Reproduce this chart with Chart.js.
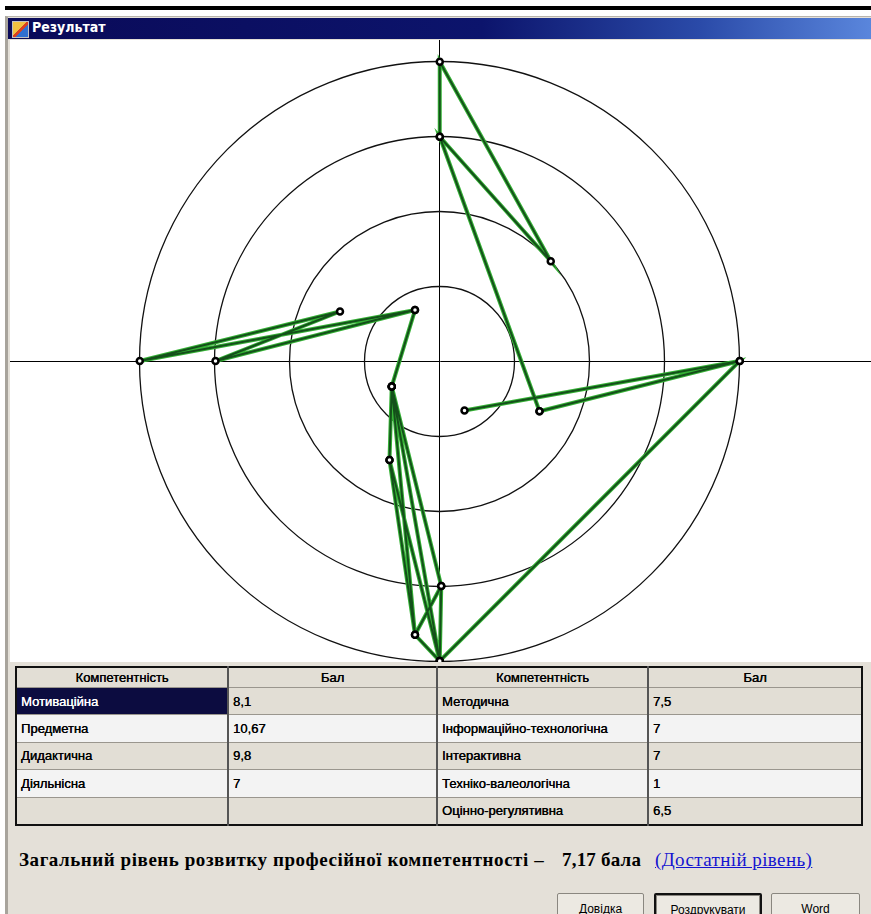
<!DOCTYPE html>
<html>
<head>
<meta charset="utf-8">
<script src="https://cdn.jsdelivr.net/npm/chart.js@4.4.1/dist/chart.umd.min.js"></script>
<style>
  body { margin: 0; width: 871px; height: 914px; overflow: hidden; background: #fff; position: relative; font-family: "Liberation Sans", Arial, sans-serif; }
  #rule { position: absolute; left: 5px; top: 6px; width: 866px; height: 4px; background: #000; }
  #win { position: absolute; left: 5px; top: 16px; right: 0; bottom: 0; background: #e4e0d8; border-left: 3px solid #a8a49c; border-top: 1px solid #b8b4ac; }
  #title { position: absolute; left: 8px; top: 18px; width: 863px; height: 21px;
    background: linear-gradient(to right, #0a0a58 0%, #0c146c 55%, #2a4aa8 80%, #5a86dc 100%); }
  #title .ico { position: absolute; left: 4px; top: 3px; width: 15px; height: 15px;
    background: linear-gradient(135deg, #f0c040 0 45%, #d84020 45% 60%, #3070d0 60%); border: 1px solid #c0c0c0; }
  #title .txt { position: absolute; left: 24px; top: 1px; color: #fff; font: bold 14px "DejaVu Sans Condensed", "DejaVu Sans", sans-serif; }
  #plot { position: absolute; left: 10px; top: 40px; width: 861px; height: 622px; background: #fff; }
  #grid { position: absolute; left: 15px; top: 666px; border: 2px solid #111; border-collapse: collapse; background: #e4e0d8; }
  #grid td, #grid th { border: 1px solid #9a968e; padding: 0 4px; font: 13px "Liberation Sans", Arial, sans-serif; color: #000; text-align: left; white-space: nowrap; text-shadow: 0.35px 0 0 #000; }
  #grid th { height: 19px; font-weight: normal; text-align: center; background: #e2ded5; }
  #grid td { height: 26.4px; }
  #grid tr.g td { background: #e2ded5; }
  #grid tr.l td { background: #f3f3f3; }
  #grid td.sel { background: #0c0c40 !important; color: #fff; text-shadow: 0.35px 0 0 #fff; }
  #grid td.sep, #grid th.sep { border-left: 2px solid #555; }
  #sum { position: absolute; left: 19px; top: 849px; font: bold 19px "Liberation Serif", "Times New Roman", serif; white-space: nowrap; letter-spacing: 0.55px; }
  #sum .val { position: absolute; left: 543px; top: 0; letter-spacing: 0.2px; }
  #sum .lvl { position: absolute; left: 636px; top: 0; color: #1414d0; text-decoration: underline; font-weight: normal; letter-spacing: 0.4px; }
  .btn { position: absolute; top: 893px; height: 26px; background: #ece9e2; border: 1px solid #8a8780; border-radius: 2px; font: 12px "Liberation Sans", Arial, sans-serif; text-align: center; line-height: 30px; box-sizing: border-box; }
  .btn.def { border: 2px solid #111; box-shadow: inset 0 0 0 1px #8a8780; }
</style>
</head>
<body>
<div id="rule"></div>
<div id="win"></div>
<div id="title"><div class="ico"></div><div class="txt">Результат</div></div>
<div id="plot"><canvas id="chart"></canvas></div>
<table id="grid"></table>
<div id="sum">Загальний рівень розвитку професійної компетентності –<span class="val">7,17 бала</span><span class="lvl">(Достатній рівень)</span></div>
<div class="btn" style="left:557px;width:87px;">Довідка</div>
<div class="btn def" style="left:654px;width:108px;">Роздрукувати</div>
<div class="btn" style="left:771px;width:89px;">Word</div>

<script>
// -------------------------------
// Data (ring units, centre = 0,0)
// -------------------------------
const ringValues = [1, 2, 3, 4];

// vertices A..O
const vertexX = [0.01, 0.01, 1.49, -1.32, -0.32, -3.99, -2.98, 4.01, 0.34, 1.34, -0.63, -0.66, 0.03, -0.32, 0.01];
const vertexY = [3.99, 2.99, 1.33, 0.66, 0.68, 0.00, 0.00, 0.00, -0.66, -0.67, -0.34, -1.32, -3.00, -3.65, -4.00];

// order in which the green line runs through the vertices
const pathOrder = [8, 7, 9, 1, 0, 2, 1, 9, 7, 14, 10, 4, 5, 3, 6, 4, 10, 12, 14, 13, 12, 10, 13, 11, 14, 11, 10];

// table
const leftNames = ["Мотиваційна", "Предметна", "Дидактична", "Діяльнісна", ""];
const leftScores = ["8,1", "10,67", "9,8", "7", ""];
const rightNames = ["Методична", "Інформаційно-технологічна", "Інтерактивна", "Техніко-валеологічна", "Оцінно-регулятивна"];
const rightScores = ["7,5", "7", "7", "1", "6,5"];

// -------------------------------
// Table
// -------------------------------
function buildTable() {
  const t = document.getElementById("grid");
  const w = [202, 199, 201, 204];
  let html = `<tr><th style="width:${w[0]}px">Компетентність</th><th class="sep" style="width:${w[1]}px">Бал</th>` +
    `<th class="sep" style="width:${w[2]}px">Компетентність</th><th class="sep" style="width:${w[3]}px">Бал</th></tr>`;
  leftNames.forEach((n, i) => {
    html += `<tr class="${i % 2 === 0 ? "g" : "l"}"><td class="${i === 0 ? "sel" : ""}">${n}</td>` +
      `<td class="sep">${leftScores[i]}</td><td class="sep">${rightNames[i]}</td><td class="sep">${rightScores[i]}</td></tr>`;
  });
  t.innerHTML = html;
}

// -------------------------------
// Rings + cross axes
// -------------------------------
const ringsPlugin = {
  id: "rings",
  beforeDatasetsDraw(chart) {
    const { ctx, chartArea: a, scales } = chart;
    const cx = Math.round(scales.x.getPixelForValue(0)) + 0.5;
    const cy = Math.round(scales.y.getPixelForValue(0)) + 0.5;
    ctx.save();
    ctx.strokeStyle = "#000";
    ctx.lineWidth = 1;
    ctx.beginPath();
    ctx.moveTo(a.left, cy);
    ctx.lineTo(a.right, cy);
    ctx.moveTo(cx, a.top);
    ctx.lineTo(cx, a.bottom);
    ctx.stroke();
    ctx.strokeStyle = "#111";
    ctx.lineWidth = 1.3;
    ringValues.forEach((v) => {
      const r = scales.x.getPixelForValue(v) - scales.x.getPixelForValue(0);
      ctx.beginPath();
      ctx.arc(cx, cy, r, 0, Math.PI * 2);
      ctx.stroke();
    });
    ctx.restore();
  },
};

function renderChart() {
  const pts = pathOrder.map((i) => ({ x: vertexX[i], y: vertexY[i] }));
  const W = 861, H = 622, cxPx = 429, cyPx = 321, unit = 75;
  new Chart(document.getElementById("chart"), {
    type: "scatter",
    data: {
      datasets: [
        {
          data: pts, showLine: true, borderColor: "#14501a", borderWidth: 2,
          pointRadius: 3, pointBorderWidth: 2.5, pointBorderColor: "#000", pointBackgroundColor: "#fff",
          order: 1, clip: false,
        },
        {
          data: pts, showLine: true, borderColor: "#36b236", borderWidth: 4,
          pointRadius: 0, order: 2, clip: false,
        },
      ],
    },
    options: {
      responsive: false, animation: false, maintainAspectRatio: false,
      layout: { padding: 0, autoPadding: false },
      plugins: { legend: { display: false }, tooltip: { enabled: false } },
      scales: {
        x: { type: "linear", display: false, min: -cxPx / unit, max: (W - cxPx) / unit },
        y: { type: "linear", display: false, min: -(H - cyPx) / unit, max: cyPx / unit },
      },
    },
    plugins: [ringsPlugin],
  });
}

const cv = document.getElementById("chart");
cv.width = 861; cv.height = 622;
cv.style.width = "861px"; cv.style.height = "622px";
buildTable();
renderChart();
</script>
</body>
</html>
